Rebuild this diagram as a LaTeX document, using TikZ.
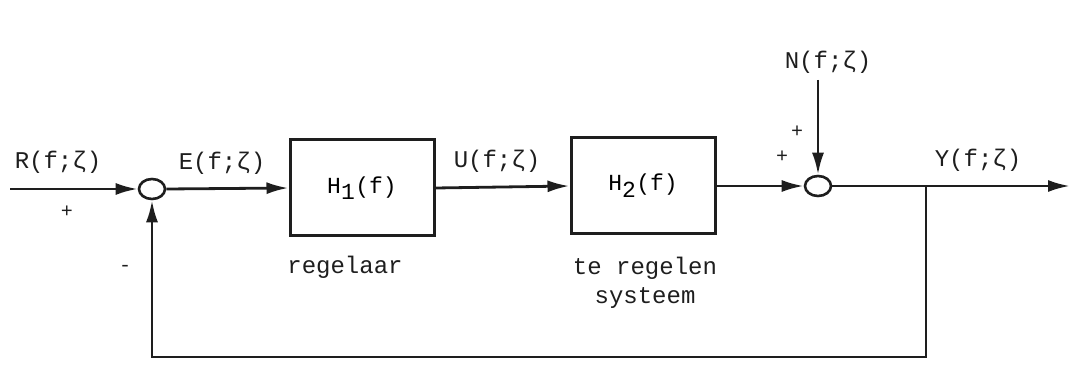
\documentclass[tikz,border=0pt]{standalone}
\usepackage{fontspec}
\setmonofont{Liberation Mono}
\usetikzlibrary{shapes.geometric, arrows.meta, positioning, calc}
\definecolor{inkgray}{RGB}{30,30,30}
\tikzset{
  %% ---- boxes ----
  blok/.style   = {rectangle, draw=inkgray, line width=3pt,
                   minimum width=144pt, minimum height=96pt,
                   font=\ttfamily\fontsize{23}{26}\selectfont},
  som/.style    = {ellipse, draw=inkgray, line width=2.6pt, fill=white,
                   minimum width=26pt, minimum height=20pt, inner sep=0pt},
  lbl/.style    = {font=\ttfamily\fontsize{24}{29}\selectfont, text=inkgray,
                   align=center, inner sep=0pt},
  teken/.style  = {font=\ttfamily\fontsize{20}{22}\selectfont, text=inkgray,
                   inner sep=0pt},
  %% ---- arrows ----
  pijl/.style   = {-{Latex[length=22pt,width=12pt]}, line width=2.8pt, color=inkgray},
}
\begin{document}
\begin{tikzpicture}[x=1pt, y=-1pt]
  \useasboundingbox (0,0) rectangle (1081,379);

  %% junctions and blocks
  \node[som] (s1) at (152,189) {};
  \node[blok] (h1) at (362,188) {H$_{\texttt{1}}$(f)};
  \node[blok] (h2) at (643,186) {H$_{\texttt{2}}$(f)};
  \node[som] (s2) at (818,186) {};

  %% free ends
  \coordinate (in)  at (10,189);
  \coordinate (nin) at (818,80);
  \coordinate (tak) at (926,186);
  \coordinate (uit) at (1070,186);
  \coordinate (fb)  at (926,357);
  \coordinate (fbl) at (152,357);

  %% signal path
  \draw[pijl] (in) -- (s1.west);
  \draw[pijl] (s1.east) -- (h1.west);
  \draw[pijl] (h1.east) -- (h2.west);
  \draw[pijl] (h2.east) -- (s2.west);
  \draw[pijl] (nin) -- (s2.north);
  \draw[pijl] (s2.east) -- (uit);
  \draw[pijl] (tak) -- (fb) -- (fbl) -- (s1.south);

  %% labels
  \node[lbl] (r)   at (58,162)  {R(f;ζ)};
  \node[lbl] (e)   at (222,163) {E(f;ζ)};
  \node[lbl] (u)   at (497,161) {U(f;ζ)};
  \node[lbl] (n)   at (828,62)  {N(f;ζ)};
  \node[lbl] (y)   at (978,160) {Y(f;ζ)};
  \node[teken] (p1) at (67,212)  {+};
  \node[teken] (m1) at (125,268) {-};
  \node[teken] (p2) at (782,157) {+};
  \node[teken] (p3) at (797,132) {+};
  \node[lbl] (reg) at (345,267) {regelaar};
  \node[lbl] (sys) at (645,283) {te regelen\\systeem};

\end{tikzpicture}
\end{document}
